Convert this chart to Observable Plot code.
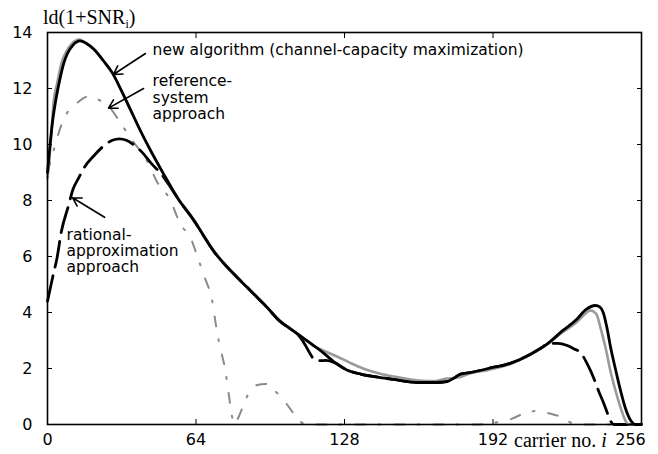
<!DOCTYPE html>
<html><head><meta charset="utf-8">
<script src="https://cdn.jsdelivr.net/npm/d3@7"></script>
<script src="https://cdn.jsdelivr.net/npm/@observablehq/plot@0.6"></script>
<style>body{margin:0;background:#fff}</style>
</head><body><div id="chart"></div>
<script>
// new algorithm (channel-capacity maximization) - black solid
const newX = [0,1,2,3.4,5,7,8.6,11,14,17,20,24,28,32,36,40,44,50,56,63,72,80,86,95,100,105,110,115,119,124,129,135,143,150,160,167,172,175,178,182,190,200,208,215,222,228,232,236.2,238,239.5,241,242.7,245,247,249,251.3,253.4,256];
const newY = [9.0,9.9,10.7,11.5,12.2,12.9,13.25,13.55,13.7,13.6,13.4,13.0,12.55,11.9,11.2,10.5,9.85,8.95,8.1,7.3,6.15,5.4,4.9,4.15,3.7,3.4,3.1,2.8,2.55,2.2,1.95,1.8,1.68,1.6,1.5,1.5,1.53,1.65,1.8,1.85,2.0,2.2,2.5,2.85,3.35,3.75,4.1,4.25,4.2,4.0,3.5,2.75,1.9,1.2,0.6,0.15,0,0];
// companion grey solid curve
const greyX = [0,0.5,1.5,2.6,4.2,6,8,10.5,13.5,17,20,24,28,32,36,40,44,50,56,63,72,80,86,95,100,105,110,115,120,125,130,136,143,150,160,167,172,175,178,182,190,200,208,215,222,228,231,234,236.5,238.5,240.5,242.5,244.8,247,249,250.5,256];
const greyY = [8.8,9.2,10.2,11.5,12.2,12.9,13.3,13.6,13.75,13.6,13.4,13.0,12.55,11.9,11.2,10.5,9.85,8.95,8.1,7.3,6.15,5.4,4.9,4.15,3.7,3.4,3.1,2.8,2.6,2.42,2.22,2.0,1.82,1.7,1.57,1.55,1.64,1.66,1.7,1.82,1.95,2.18,2.5,2.85,3.3,3.65,3.9,4.07,3.95,3.4,2.75,1.95,1.21,0.6,0.15,0,0];
// reference-system approach - grey dash-dot
const refX = [0,3,6,9,13,17,22,27,32,37,43,47,53,57,62,65,68,71,72.5,74,76.7,78,79.5,80.5,82,84,86.6,90,94,98,102,106,109,112,130,150,170,185,195,200,204,208,212,216,222,226,230,256];
const refY = [9.0,9.9,10.7,11.2,11.5,11.7,11.6,11.3,10.7,10.1,9.4,8.7,8.0,7.2,6.6,5.9,5.2,4.4,3.6,2.9,1.9,1.15,0.3,0,0.2,0.6,1.1,1.4,1.45,1.2,0.85,0.4,0.1,0,0,0,0,0,0.1,0.2,0.35,0.45,0.5,0.4,0.25,0.05,0,0];
// rational-approximation approach - black dashed
const ratX = [0,2.6,4,6,9,11,13.4,16,20,25,28,31,34,37,41,45,49,52,56,63,72,80,86,95,100,105,109,111.2,113,115.5,118,119.8,124,129,135,143,150,160,167,172,175,178,182,190,200,208,212,216,220,224,227,229.7,233,235.3,237.5,240,241.8,243,244,256];
const ratY = [4.4,5.4,5.9,6.9,7.8,8.4,8.8,9.2,9.6,10.0,10.15,10.2,10.15,10.0,9.7,9.3,8.95,8.6,8.1,7.3,6.15,5.4,4.9,4.15,3.7,3.4,3.1,2.82,2.55,2.29,2.28,2.29,2.2,1.95,1.8,1.68,1.6,1.5,1.5,1.53,1.65,1.8,1.85,2.0,2.2,2.5,2.7,2.88,2.9,2.82,2.7,2.57,2.1,1.68,1.2,0.7,0.3,0.08,0,0];

const xTicks = [0,64,128,192];
const xTickEnd = [256];
const yTicks = [0,2,4,6,8,10,12,14];

const annText = ["new algorithm (channel-capacity maximization)", "reference-\nsystem\napproach", "rational-\napproximation\napproach"];
const annX = [45.3, 45.3, 8.2];
const annY = [13.4, 11.68, 6.21];
const arrX1 = [42.2, 41.4, 24.6], arrY1 = [13.25, 12.0, 7.4];
const arrX2 = [28.4, 26.3, 10.8], arrY2 = [12.5, 11.3, 8.1];

const toRows = (xs, ys) => xs.map((x, i) => ({x, y: ys[i]}));
const newRows = toRows(newX, newY), greyRows = toRows(greyX, greyY);
const refRows = toRows(refX, refY), ratRows = toRows(ratX, ratY);
const ann = annText.map((t, i) => ({t, x: annX[i], y: annY[i]}));
const arrows = arrX1.map((_, i) => ({x1: arrX1[i], y1: arrY1[i], x2: arrX2[i], y2: arrY2[i]}));

const plot = Plot.plot({
  width: 658, height: 454,
  marginLeft: 47, marginRight: 17, marginTop: 32, marginBottom: 30,
  style: {fontFamily: "DejaVu Sans", fontSize: "16px", background: "#fff", color: "#000"},
  x: {domain: [0, 256]},
  y: {domain: [0, 14]},
  marks: [
    Plot.line(refRows, {x: "x", y: "y", stroke: "#8a8a8a", strokeWidth: 2, strokeDasharray: "10,13,2,14", curve: "monotone-x"}),
    Plot.line(ratRows, {x: "x", y: "y", stroke: "#000", strokeWidth: 2.8, strokeDasharray: "26,9", curve: "monotone-x"}),
    Plot.line(greyRows, {x: "x", y: "y", stroke: "#9a9a9a", strokeWidth: 2.6, curve: "monotone-x"}),
    Plot.line(newRows, {x: "x", y: "y", stroke: "#000", strokeWidth: 2.8, curve: "monotone-x"}),
    Plot.arrow(arrows, {x1: "x1", y1: "y1", x2: "x2", y2: "y2", stroke: "#000", strokeWidth: 1.6, headLength: 9}),
    Plot.text(ann, {x: "x", y: "y", text: "t", textAnchor: "start", lineAnchor: "middle", lineHeight: 1.05, fontSize: 15.5, fill: "#000"}),
    Plot.frame({stroke: "#000", strokeWidth: 1.6}),
    Plot.axisY({anchor: "left", ticks: yTicks, tickSize: -5, tickPadding: 20, label: null}),
    Plot.axisY({anchor: "right", ticks: yTicks, tickSize: -5, tickFormat: () => "", label: null}),
    Plot.axisX({anchor: "bottom", ticks: xTicks, tickSize: -5, tickPadding: 14, label: null}),
    Plot.axisX({anchor: "bottom", ticks: xTickEnd, tickSize: 0, tickPadding: 9, dx: -11, label: null}),
    Plot.axisX({anchor: "top", ticks: xTicks, tickSize: -5, tickFormat: () => "", label: null})
  ]
});
document.getElementById("chart").append(plot);

const svg = d3.select(plot);
const yl = svg.append("text").attr("x", 43).attr("y", 24).attr("text-anchor", "start")
  .style("font-family", "Liberation Serif").style("font-size", "20px");
yl.append("tspan").text("ld(1+SNR");
yl.append("tspan").attr("font-size", "12px").attr("dy", 4).text("i");
yl.append("tspan").attr("dy", -4).text(")");
const xl = svg.append("text").attr("x", 514).attr("y", 447).attr("text-anchor", "start")
  .style("font-family", "Liberation Serif").style("font-size", "20px");
xl.append("tspan").text("carrier no. ");
xl.append("tspan").attr("font-style", "italic").text("i");
</script>
</body></html>
